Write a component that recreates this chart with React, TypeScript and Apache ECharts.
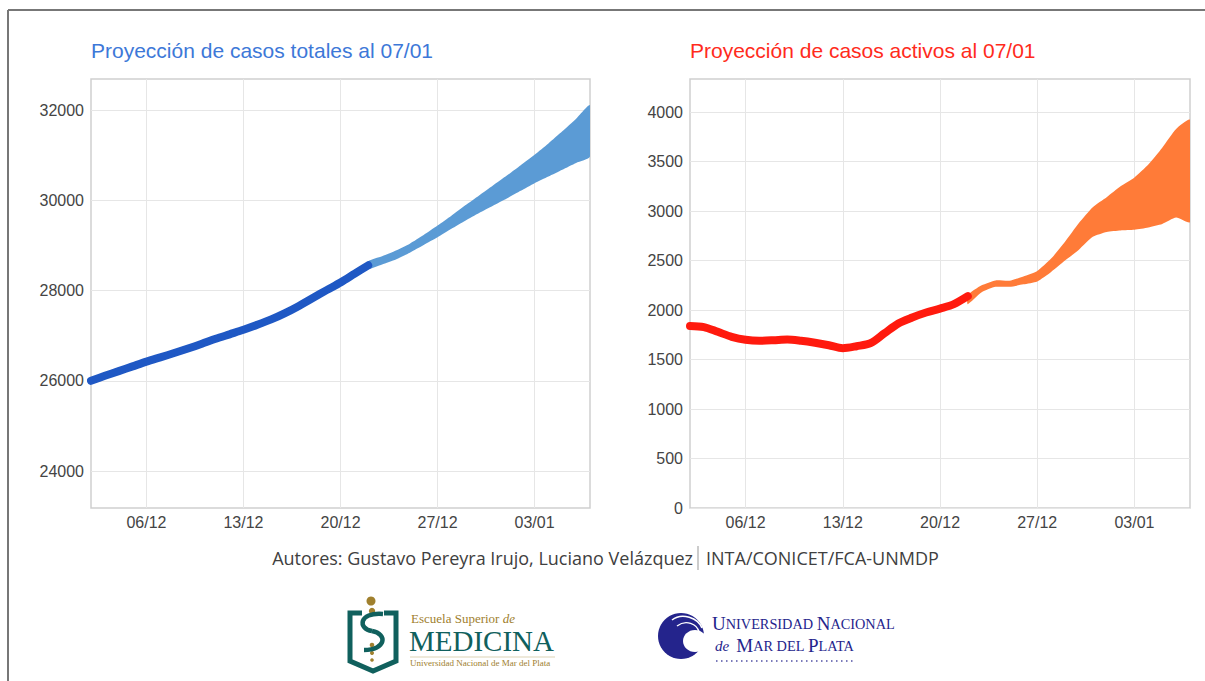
import React, { useEffect, useRef } from 'react';
import * as echarts from 'echarts';

// Day 0 = 02/12/2020, day 36 = 07/01/2021
const xTickDays = [4, 11, 18, 25, 32];
const xTickLabels = ['06/12', '13/12', '20/12', '27/12', '03/01'];
const projStartDay = 20;

const totalObserved = [26000, 26110, 26215, 26320, 26425, 26520, 26615, 26715, 26820, 26930, 27030, 27130, 27240, 27360, 27500, 27660, 27835, 28010, 28180, 28370, 28560];
const totalProjLower = [28480, 28580, 28690, 28840, 29010, 29180, 29370, 29550, 29720, 29880, 30040, 30210, 30380, 30530, 30680, 30830, 30970];
const totalProjUpper = [28650, 28760, 28890, 29040, 29230, 29440, 29660, 29890, 30110, 30330, 30550, 30780, 31010, 31260, 31530, 31810, 32110];
const totalYTicks = [24000, 26000, 28000, 30000, 32000];

const activeObserved = [1840, 1828, 1780, 1730, 1700, 1690, 1695, 1703, 1690, 1670, 1645, 1615, 1635, 1665, 1765, 1865, 1925, 1975, 2015, 2060, 2140];
const activeProjLower = [2060, 2180, 2235, 2235, 2260, 2290, 2385, 2500, 2610, 2740, 2790, 2805, 2812, 2835, 2870, 2935, 2890];
const activeProjUpper = [2150, 2250, 2300, 2296, 2340, 2395, 2520, 2690, 2880, 3040, 3140, 3250, 3340, 3470, 3640, 3830, 3920];
const activeYTicks = [0, 500, 1000, 1500, 2000, 2500, 3000, 3500, 4000];

const titleLeft = 'Proyección de casos totales al 07/01';
const titleRight = 'Proyección de casos activos al 07/01';
const authors = 'Autores: Gustavo Pereyra Irujo, Luciano Velázquez';
const institutions = 'INTA/CONICET/FCA-UNMDP';

const TICK_FONT = 'Liberation Sans, Arial, sans-serif';
const SERIF = 'Liberation Serif, serif';

function xAxisCfg(gridIndex: number) {
  return {
    type: 'value',
    gridIndex,
    min: 0,
    max: 36,
    axisLine: { show: false },
    axisTick: { show: false, customValues: xTickDays },
    axisLabel: {
      customValues: xTickDays,
      formatter: (v: number) => xTickLabels[xTickDays.indexOf(v)] ?? '',
      color: '#444',
      fontSize: 16,
      fontFamily: TICK_FONT,
      margin: 6,
    },
    splitLine: { show: true, lineStyle: { color: '#e6e6e6', width: 1 } },
  };
}

function yAxisCfg(gridIndex: number, min: number, max: number, ticks: number[]) {
  return {
    type: 'value',
    gridIndex,
    min,
    max,
    axisLine: { show: false },
    axisTick: { show: false, customValues: ticks },
    axisLabel: {
      customValues: ticks,
      formatter: (v: number) => String(v),
      color: '#444',
      fontSize: 16,
      fontFamily: TICK_FONT,
      margin: 7,
    },
    splitLine: { show: true, lineStyle: { color: '#e6e6e6', width: 1 } },
  };
}

function bandSeries(idx: number, lower: number[], upper: number[], color: string) {
  return {
    type: 'custom',
    xAxisIndex: idx,
    yAxisIndex: idx,
    data: lower.map((v, i) => [projStartDay + i, v, upper[i]]),
    encode: { x: 0, y: [1, 2] },
    clip: true,
    z: 2,
    renderItem: (params: any, api: any) => {
      if (params.dataIndex !== 0) return { type: 'group', children: [] };
      const pts: number[][] = [];
      for (let i = 0; i < lower.length; i++) pts.push(api.coord([projStartDay + i, lower[i]]));
      for (let i = upper.length - 1; i >= 0; i--) pts.push(api.coord([projStartDay + i, upper[i]]));
      return {
        type: 'polygon',
        shape: { points: pts, smooth: 0.2 },
        style: { fill: color },
      };
    },
  };
}

function lineSeries(idx: number, values: number[], color: string) {
  return {
    type: 'line',
    xAxisIndex: idx,
    yAxisIndex: idx,
    data: values.map((v, i) => [i, v]),
    symbol: 'none',
    smooth: 0.3,
    lineStyle: { color, width: 8, cap: 'round', join: 'round' },
    z: 3,
  };
}

const navy = '#24248c';
const teal = '#10605d';
const gold = '#a0802e';

function logos(): any[] {
  return [
    // Escuela Superior de Medicina logo
    {
      type: 'polyline',
      shape: { points: [[362, 613], [350, 613], [350, 661], [373, 671], [396, 661], [396, 613], [384, 613]] },
      style: { stroke: teal, lineWidth: 5, fill: 'none', lineJoin: 'miter' },
    },
    { type: 'circle', shape: { cx: 371, cy: 601, r: 4.5 }, style: { fill: gold } },
    { type: 'circle', shape: { cx: 372, cy: 611, r: 3.2 }, style: { fill: gold } },
    { type: 'circle', shape: { cx: 372, cy: 645, r: 2.3 }, style: { fill: gold } },
    { type: 'circle', shape: { cx: 372, cy: 653, r: 2 }, style: { fill: gold } },
    { type: 'circle', shape: { cx: 372, cy: 660, r: 1.8 }, style: { fill: gold } },
    {
      type: 'bezierCurve',
      shape: { x1: 383, y1: 614, cpx1: 358, cpy1: 612, cpx2: 358, cpy2: 629, x2: 372, y2: 631 },
      style: { stroke: teal, lineWidth: 4.5, fill: 'none' },
    },
    {
      type: 'bezierCurve',
      shape: { x1: 372, y1: 631, cpx1: 388, cpy1: 634, cpx2: 386, cpy2: 650, x2: 364, y2: 650 },
      style: { stroke: teal, lineWidth: 4.5, fill: 'none' },
    },
    {
      type: 'text',
      x: 411, y: 625,
      style: {
        text: '{a|Escuela Superior }{b|de}',
        rich: {
          a: { fontSize: 13, lineHeight: 13, fontFamily: SERIF, fill: gold, color: gold },
          b: { fontSize: 13, lineHeight: 13, fontFamily: SERIF, fontStyle: 'italic', fill: gold, color: gold },
        },
        align: 'left', verticalAlign: 'bottom', textAlign: 'left', textVerticalAlign: 'bottom',
      },
    },
    {
      type: 'text',
      x: 409, y: 627,
      style: {
        text: 'MEDICINA', fill: teal, fontSize: 29, lineHeight: 28, fontFamily: SERIF,
        align: 'left', verticalAlign: 'top', textAlign: 'left', textVerticalAlign: 'top',
      },
    },
    {
      type: 'line',
      shape: { x1: 410, y1: 657, x2: 555, y2: 657 },
      style: { stroke: gold, lineWidth: 0.6, opacity: 0.6 },
    },
    {
      type: 'text',
      x: 410, y: 667,
      style: {
        text: 'Universidad Nacional de Mar del Plata', fill: gold, fontSize: 9, lineHeight: 9, fontFamily: SERIF,
        align: 'left', verticalAlign: 'bottom', textAlign: 'left', textVerticalAlign: 'bottom',
      },
    },
    // Universidad Nacional de Mar del Plata logo
    { type: 'circle', shape: { cx: 681, cy: 636, r: 23 }, style: { fill: navy } },
    { type: 'ellipse', shape: { cx: 695, cy: 641, rx: 12, ry: 11 }, style: { fill: '#fff' } },
    {
      type: 'bezierCurve',
      shape: { x1: 672, y1: 620, cpx1: 682, cpy1: 612, cpx2: 698, cpy2: 618, x2: 702, y2: 628 },
      style: { stroke: '#fff', lineWidth: 1.6, fill: 'none' },
    },
    {
      type: 'bezierCurve',
      shape: { x1: 677, y1: 626, cpx1: 686, cpy1: 619, cpx2: 697, cpy2: 624, x2: 699, y2: 632 },
      style: { stroke: '#fff', lineWidth: 1.4, fill: 'none' },
    },
    {
      type: 'text',
      x: 712, y: 633,
      style: {
        text: '{b|U}{s|NIVERSIDAD }{b|N}{s|ACIONAL}',
        rich: {
          b: { fontSize: 19, lineHeight: 19, fontFamily: SERIF, fill: navy, color: navy },
          s: { fontSize: 14.3, lineHeight: 19, fontFamily: SERIF, fill: navy, color: navy },
        },
        align: 'left', verticalAlign: 'bottom', textAlign: 'left', textVerticalAlign: 'bottom',
      },
    },
    {
      type: 'text',
      x: 715, y: 655,
      style: {
        text: '{i|de}{s|  }{b|M}{s|AR DEL }{b|P}{s|LATA}',
        rich: {
          i: { fontSize: 15, lineHeight: 19, fontFamily: SERIF, fontStyle: 'italic', fill: navy, color: navy },
          b: { fontSize: 19, lineHeight: 19, fontFamily: SERIF, fill: navy, color: navy },
          s: { fontSize: 14.3, lineHeight: 19, fontFamily: SERIF, fill: navy, color: navy },
        },
        align: 'left', verticalAlign: 'bottom', textAlign: 'left', textVerticalAlign: 'bottom',
      },
    },
    {
      type: 'line',
      shape: { x1: 716, y1: 661, x2: 855, y2: 661 },
      style: { stroke: navy, lineWidth: 1.5, lineDash: [1.5, 3.5], opacity: 0.8 },
    },
  ];
}

export default function App() {
  const ref = useRef<HTMLDivElement>(null);
  useEffect(() => {
    if (!ref.current) return;
    const chart = echarts.init(ref.current, null, { renderer: 'svg' });
    const option: any = {
      animation: false,
      backgroundColor: '#fff',
      grid: [
        { left: 91, top: 79, width: 499, height: 429, show: true, borderColor: '#cfcfcf', borderWidth: 1.5, backgroundColor: '#fff' },
        { left: 690, top: 79, width: 500, height: 429, show: true, borderColor: '#cfcfcf', borderWidth: 1.5, backgroundColor: '#fff' },
      ],
      xAxis: [xAxisCfg(0), xAxisCfg(1)],
      yAxis: [
        yAxisCfg(0, 23180, 32690, totalYTicks),
        yAxisCfg(1, 0, 4335, activeYTicks),
      ],
      series: [
        bandSeries(0, totalProjLower, totalProjUpper, '#5b9bd5'),
        lineSeries(0, totalObserved, '#1f58c4'),
        bandSeries(1, activeProjLower, activeProjUpper, '#ff7b38'),
        lineSeries(1, activeObserved, '#ff1a0e'),
      ],
      graphic: [
        { type: 'line', shape: { x1: 8, y1: 10, x2: 1205, y2: 10 }, style: { stroke: '#777', lineWidth: 2 } },
        { type: 'line', shape: { x1: 8, y1: 10, x2: 8, y2: 681 }, style: { stroke: '#777', lineWidth: 2 } },
        {
          type: 'text', x: 91, y: 50,
          style: {
            text: titleLeft, fill: '#3d78d8', fontSize: 21, fontFamily: TICK_FONT,
            align: 'left', verticalAlign: 'middle', textAlign: 'left', textVerticalAlign: 'middle',
          },
        },
        {
          type: 'text', x: 690, y: 50,
          style: {
            text: titleRight, fill: '#ff2b1c', fontSize: 21, fontFamily: TICK_FONT,
            align: 'left', verticalAlign: 'middle', textAlign: 'left', textVerticalAlign: 'middle',
          },
        },
        {
          type: 'text', x: 693, y: 558,
          style: {
            text: authors, fill: '#404040', fontSize: 18, fontFamily: 'Open Sans, sans-serif',
            align: 'right', verticalAlign: 'middle', textAlign: 'right', textVerticalAlign: 'middle',
          },
        },
        { type: 'line', shape: { x1: 698, y1: 546, x2: 698, y2: 570 }, style: { stroke: '#999', lineWidth: 1 } },
        {
          type: 'text', x: 706, y: 558,
          style: {
            text: institutions, fill: '#404040', fontSize: 18, fontFamily: 'Open Sans, sans-serif',
            align: 'left', verticalAlign: 'middle', textAlign: 'left', textVerticalAlign: 'middle',
          },
        },
        ...logos(),
      ],
    };
    chart.setOption(option);
    return () => chart.dispose();
  }, []);
  return <div ref={ref} style={{ position: 'fixed', left: 0, top: 0, width: 1205, height: 681 }} />;
}
